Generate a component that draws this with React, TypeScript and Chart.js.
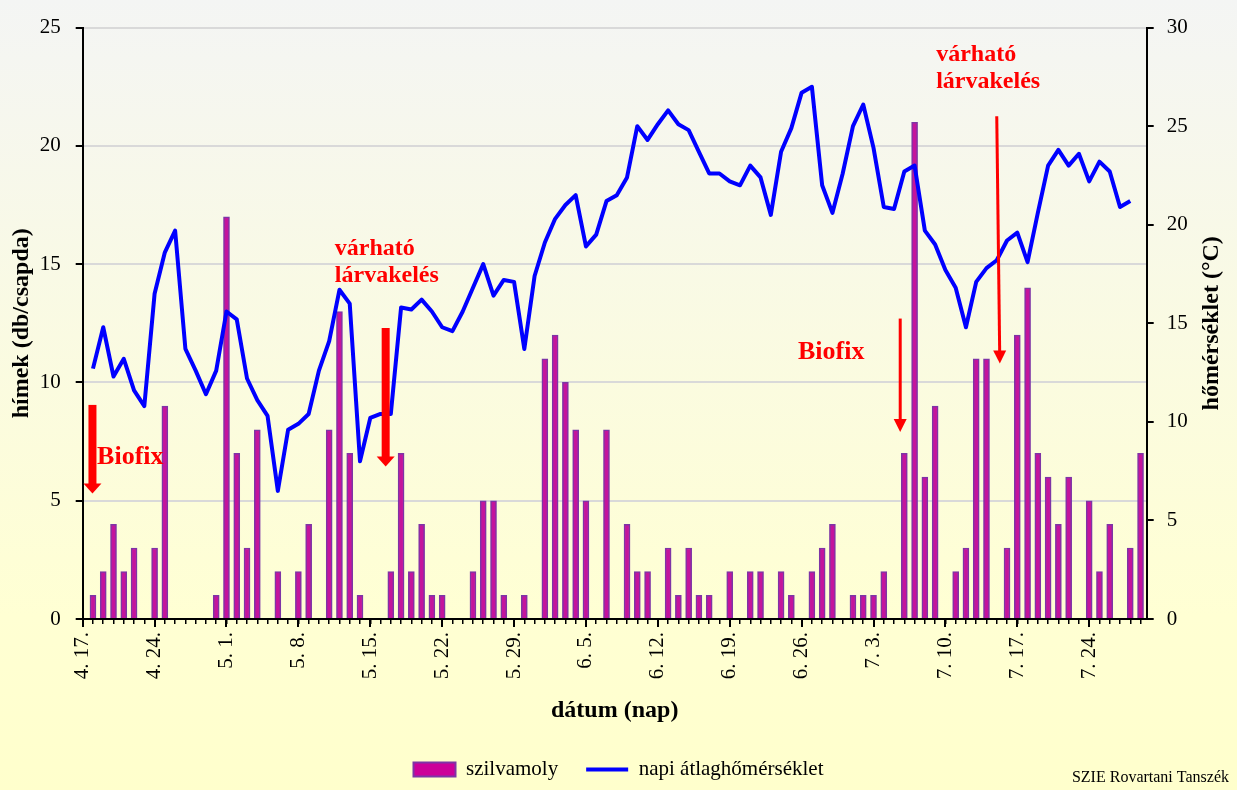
import React, { useEffect, useRef } from "react";
import { Chart, registerables } from "chart.js";

Chart.register(...registerables);

const SERIF = '"Liberation Serif", "Times New Roman", serif';

// Daily categories, 4.17 – 7.30
const DAYS: string[] = [
  "4. 17.", "4. 18.", "4. 19.", "4. 20.", "4. 21.", "4. 22.", "4. 23.", "4. 24.", "4. 25.", "4. 26.", "4. 27.", "4. 28.", "4. 29.", "4. 30.",
  "5. 1.", "5. 2.", "5. 3.", "5. 4.", "5. 5.", "5. 6.", "5. 7.", "5. 8.", "5. 9.", "5. 10.", "5. 11.", "5. 12.", "5. 13.", "5. 14.", "5. 15.", "5. 16.",
  "5. 17.", "5. 18.", "5. 19.", "5. 20.", "5. 21.", "5. 22.", "5. 23.", "5. 24.", "5. 25.", "5. 26.", "5. 27.", "5. 28.", "5. 29.", "5. 30.", "5. 31.",
  "6. 1.", "6. 2.", "6. 3.", "6. 4.", "6. 5.", "6. 6.", "6. 7.", "6. 8.", "6. 9.", "6. 10.", "6. 11.", "6. 12.", "6. 13.", "6. 14.", "6. 15.",
  "6. 16.", "6. 17.", "6. 18.", "6. 19.", "6. 20.", "6. 21.", "6. 22.", "6. 23.", "6. 24.", "6. 25.", "6. 26.", "6. 27.", "6. 28.", "6. 29.", "6. 30.",
  "7. 1.", "7. 2.", "7. 3.", "7. 4.", "7. 5.", "7. 6.", "7. 7.", "7. 8.", "7. 9.", "7. 10.", "7. 11.", "7. 12.", "7. 13.", "7. 14.", "7. 15.",
  "7. 16.", "7. 17.", "7. 18.", "7. 19.", "7. 20.", "7. 21.", "7. 22.", "7. 23.", "7. 24.", "7. 25.", "7. 26.", "7. 27.", "7. 28.", "7. 29.", "7. 30.",
];

// Labelled (weekly) ticks
const TICK_LABELS: string[] = [
  "4. 17.", "4. 24.", "5. 1.", "5. 8.", "5. 15.", "5. 22.", "5. 29.", "6. 5.",
  "6. 12.", "6. 19.", "6. 26.", "7. 3.", "7. 10.", "7. 17.", "7. 24.",
];

// szilvamoly catches (hímek / csapda), one value per day
const MOTH: number[] = [
  0, 1, 2, 4, 2, 3, 0,
  3, 9, 0, 0, 0, 0, 1,
  17, 7, 3, 8, 0, 2, 0,
  2, 4, 0, 8, 13, 7, 1,
  0, 0, 2, 7, 2, 4, 1,
  1, 0, 0, 2, 5, 5, 1,
  0, 1, 0, 11, 12, 10, 8,
  5, 0, 8, 0, 4, 2, 2,
  0, 3, 1, 3, 1, 1, 0,
  2, 0, 2, 2, 0, 2, 1,
  0, 2, 3, 4, 0, 1, 1,
  1, 2, 0, 7, 21, 6, 9,
  0, 2, 3, 11, 11, 0, 3,
  12, 14, 7, 6, 4, 6, 0,
  5, 2, 4, 0, 3, 7, 0,
];

// napi átlaghőmérséklet (°C), one value per day
const TEMP: (number | null)[] = [
  null, 12.7, 14.8, 12.3, 13.2, 11.6, 10.8,
  16.5, 18.6, 19.7, 13.7, 12.6, 11.4, 12.6,
  15.6, 15.2, 12.2, 11.1, 10.3, 6.5, 9.6,
  9.9, 10.4, 12.6, 14.1, 16.7, 16.0, 8.0,
  10.2, 10.4, 10.4, 15.8, 15.7, 16.2, 15.6,
  14.8, 14.6, 15.6, 16.8, 18.0, 16.4, 17.2,
  17.1, 13.7, 17.4, 19.1, 20.3, 21.0, 21.5,
  18.9, 19.5, 21.2, 21.5, 22.4, 25.0, 24.3,
  25.1, 25.8, 25.1, 24.8, 23.7, 22.6, 22.6,
  22.2, 22.0, 23.0, 22.4, 20.5, 23.7, 24.9,
  26.7, 27.0, 22.0, 20.6, 22.6, 25.0, 26.1,
  23.9, 20.9, 20.8, 22.7, 23.0, 19.7, 19.0,
  17.7, 16.8, 14.8, 17.1, 17.8, 18.2, 19.2,
  19.6, 18.1, 20.6, 23.0, 23.8, 23.0, 23.6,
  22.2, 23.2, 22.7, 20.9, 21.2, null, null,
];

// Annotation arrows (x in day index, y in left-axis units)
const ARROWS = [
  { x0: 0.95, y0: 9.05, x1: 0.95, y1: 5.3, thick: true },
  { x0: 29.5, y0: 12.3, x1: 29.5, y1: 6.45, thick: true },
  { x0: 79.6, y0: 12.7, x1: 79.6, y1: 7.9, thick: false },
  { x0: 89.0, y0: 21.25, x1: 89.3, y1: 10.8, thick: false },
];

const NOTES = [
  { lines: ["Biofix"], x: 1.4, y: 6.85, size: 26 },
  { lines: ["várható", "lárvakelés"], x: 24.55, y: 15.65, size: 24 },
  { lines: ["Biofix"], x: 69.65, y: 11.27, size: 26 },
  { lines: ["várható", "lárvakelés"], x: 83.1, y: 23.87, size: 24 },
];

const BAR_FILL = "#C4149C";
const BAR_EDGE = "#7E34A6";
const LINE_COLOR = "#0000FF";

export default function App() {
  const ref = useRef<HTMLCanvasElement>(null);

  useEffect(() => {
    const canvas = ref.current;
    if (!canvas) return;

    const bgPlugin = {
      id: "bg",
      beforeDraw(chart: any) {
        const { ctx, width, height } = chart;
        const g = ctx.createLinearGradient(0, 0, 0, height);
        g.addColorStop(0, "#F4F5F4");
        g.addColorStop(0.78, "#FFFFD3");
        g.addColorStop(1, "#FFFFCC");
        ctx.save();
        ctx.fillStyle = g;
        ctx.fillRect(0, 0, width, height);
        ctx.restore();
      },
    };

    const extrasPlugin = {
      id: "extras",
      afterDatasetsDraw(chart: any) {
        const { ctx } = chart;
        const xs = chart.scales.x;
        const ys = chart.scales.y;
        ctx.save();
        ctx.fillStyle = "#FF0000";
        ctx.strokeStyle = "#FF0000";
        ARROWS.forEach((a) => {
          const px0 = xs.getPixelForValue(a.x0);
          const py0 = ys.getPixelForValue(a.y0);
          const px1 = xs.getPixelForValue(a.x1);
          const py1 = ys.getPixelForValue(a.y1);
          const shaft = a.thick ? 8 : 3;
          const headW = a.thick ? 18 : 13;
          const headL = a.thick ? 10 : 13;
          const dx = px1 - px0;
          const dy = py1 - py0;
          const len = Math.hypot(dx, dy);
          const ux = dx / len;
          const uy = dy / len;
          const bx = px1 - ux * headL;
          const by = py1 - uy * headL;
          ctx.beginPath();
          ctx.lineWidth = shaft;
          ctx.lineCap = "butt";
          ctx.moveTo(px0, py0);
          ctx.lineTo(bx + ux * 1, by + uy * 1);
          ctx.stroke();
          const nx = -uy;
          const ny = ux;
          ctx.beginPath();
          ctx.moveTo(px1, py1);
          ctx.lineTo(bx + nx * headW / 2, by + ny * headW / 2);
          ctx.lineTo(bx - nx * headW / 2, by - ny * headW / 2);
          ctx.closePath();
          ctx.fill();
        });
        ctx.textAlign = "left";
        ctx.textBaseline = "middle";
        NOTES.forEach((n) => {
          ctx.font = `bold ${n.size}px ${SERIF}`;
          const px = xs.getPixelForValue(n.x);
          const py = ys.getPixelForValue(n.y);
          n.lines.forEach((ln, i) => {
            ctx.fillText(ln, px, py + i * 27);
          });
        });
        ctx.restore();
      },
      afterDraw(chart: any) {
        const { ctx, chartArea, width } = chart;
        const xs = chart.scales.x;
        ctx.save();
        // weekly long ticks
        ctx.strokeStyle = "#000";
        ctx.lineWidth = 2;
        DAYS.forEach((d, i) => {
          if (TICK_LABELS.includes(d)) {
            const px = Math.round(xs.getPixelForValue(i));
            ctx.beginPath();
            ctx.moveTo(px, chartArea.bottom);
            ctx.lineTo(px, chartArea.bottom + 8);
            ctx.stroke();
          }
        });
        // right axis title (reads bottom-to-top)
        ctx.fillStyle = "#000";
        ctx.font = `bold 24px ${SERIF}`;
        ctx.translate(width - 25, (chartArea.top + chartArea.bottom) / 2);
        ctx.rotate(-Math.PI / 2);
        ctx.textAlign = "center";
        ctx.textBaseline = "middle";
        ctx.fillText("hőmérséklet (°C)", 0, 0);
        ctx.restore();
        // source note
        ctx.save();
        ctx.fillStyle = "#000";
        ctx.font = `16px ${SERIF}`;
        ctx.textAlign = "right";
        ctx.textBaseline = "middle";
        ctx.fillText("SZIE Rovartani Tanszék", 1229, 778);
        ctx.restore();
      },
    };

    const barData = MOTH.map((v, i) => ({ x: i, y: v > 0 ? v : null }));
    const lineData = TEMP.map((v, i) => ({ x: i, y: v }));

    const chart = new Chart(canvas, {
      type: "bar",
      data: {
        datasets: [
          {
            type: "bar",
            label: "szilvamoly",
            data: barData as any,
            yAxisID: "y",
            backgroundColor: BAR_FILL,
            borderColor: BAR_EDGE,
            borderWidth: 1.5,
            barThickness: 6,
            order: 1,
          },
          {
            type: "line",
            label: "napi átlaghőmérséklet",
            data: lineData as any,
            yAxisID: "y1",
            borderColor: LINE_COLOR,
            backgroundColor: LINE_COLOR,
            borderWidth: 4,
            borderJoinStyle: "round",
            pointRadius: 0,
            tension: 0,
            order: 0,
          } as any,
        ],
      },
      options: {
        responsive: false,
        animation: false,
        events: [],
        layout: { padding: { top: 20, left: 0, right: 0, bottom: 0 } },
        plugins: {
          tooltip: { enabled: false },
          legend: {
            position: "bottom",
            labels: {
              usePointStyle: true,
              pointStyleWidth: 42,
              boxHeight: 14,
              padding: 28,
              color: "#000",
              font: { family: SERIF, size: 21 },
              generateLabels: () => [
                {
                  text: "szilvamoly",
                  fillStyle: "#CC0099",
                  strokeStyle: BAR_EDGE,
                  lineWidth: 2,
                  pointStyle: "rect",
                  datasetIndex: 0,
                  hidden: false,
                } as any,
                {
                  text: "napi átlaghőmérséklet",
                  fillStyle: LINE_COLOR,
                  strokeStyle: LINE_COLOR,
                  lineWidth: 4,
                  pointStyle: "line",
                  datasetIndex: 1,
                  hidden: false,
                } as any,
              ],
            },
          },
        },
        scales: {
          x: {
            type: "linear",
            min: 0,
            max: 103.6,
            offset: false,
            afterFit: (s: any) => {
              s.height = 112;
            },
            grid: {
              offset: false,
              drawOnChartArea: false,
              color: "#000",
              lineWidth: 1.5,
              tickLength: 5,
            },
            border: { color: "#000", width: 2 },
            ticks: {
              stepSize: 1,
              autoSkip: false,
              includeBounds: false,
              maxTicksLimit: 200,
              minRotation: 90,
              maxRotation: 90,
              padding: 8,
              color: "#000",
              font: { family: SERIF, size: 21 },
              callback: (v: any) => {
                const d = DAYS[Math.round(Number(v))];
                return d && TICK_LABELS.includes(d) ? d : "";
              },
            },
            title: {
              display: true,
              text: "dátum (nap)",
              color: "#000",
              font: { family: SERIF, size: 24, weight: "bold" },
              padding: { top: 4, bottom: 5.6 },
            },
          },
          y: {
            type: "linear",
            position: "left",
            min: 0,
            max: 25,
            afterFit: (s: any) => {
              s.width = 82.7;
            },
            ticks: {
              stepSize: 5,
              padding: 15,
              color: "#000",
              font: { family: SERIF, size: 21 },
            },
            grid: {
              color: (c: any) => (c.tick && c.tick.value === 0 ? "rgba(0,0,0,0)" : "#D9D9D9"),
              lineWidth: 2,
              tickColor: "#000",
              tickLength: 7,
              tickWidth: 2,
            },
            border: { color: "#000", width: 2 },
            title: {
              display: true,
              text: "hímek (db/csapda)",
              color: "#000",
              font: { family: SERIF, size: 24, weight: "bold" },
              padding: { top: 7.6, bottom: 0 },
            },
          },
          y1: {
            type: "linear",
            position: "right",
            min: 0,
            max: 30,
            afterFit: (s: any) => {
              s.width = 90.3;
            },
            ticks: {
              stepSize: 5,
              padding: 13,
              color: "#000",
              font: { family: SERIF, size: 21 },
            },
            grid: {
              drawOnChartArea: false,
              color: "#000",
              tickLength: 7,
              lineWidth: 2,
            },
            border: { color: "#000", width: 2 },
          },
        },
      } as any,
      plugins: [bgPlugin, extrasPlugin],
    });

    return () => {
      chart.destroy();
    };
  }, []);

  return (
    <div style={{ position: "fixed", left: 0, top: 0, width: 1237, height: 790 }}>
      <canvas ref={ref} width={1237} height={790} style={{ width: 1237, height: 790, display: "block" }} />
    </div>
  );
}
